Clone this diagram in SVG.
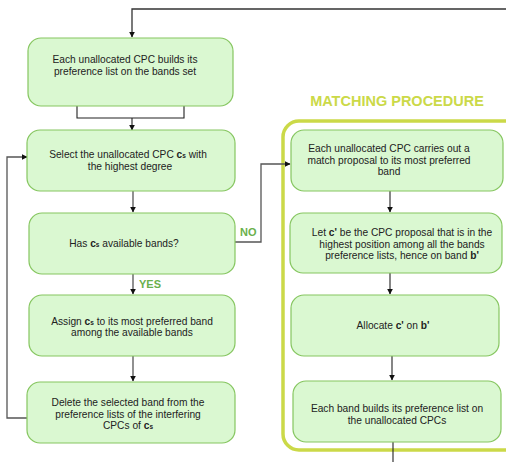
<svg xmlns="http://www.w3.org/2000/svg" width="506" height="462" viewBox="0 0 506 462">
  <defs>
    <marker id="arr" viewBox="0 0 10 10" refX="9" refY="5" markerWidth="6" markerHeight="6" markerUnits="userSpaceOnUse" orient="auto">
      <path d="M0,0 L10,5 L0,10 z" fill="#111"/>
    </marker>
  </defs>
  <style>
    .box { fill: #daf8d1; stroke: #86c660; stroke-width: 1.2; }
    .t { font-family: "Liberation Sans", Arial, sans-serif; font-size: 10.2px; fill: #222; text-anchor: middle; }
    .b { font-weight: bold; }
    .sub { font-weight: bold; font-size: 6.5px; }
    .lbl { font-family: "Liberation Sans", Arial, sans-serif; font-size: 11px; font-weight: bold; fill: #6ab04c; }
    .ln { fill: none; stroke: #555; stroke-width: 1.3; }
    .lnd { fill: none; stroke: #222; stroke-width: 1.1; }
    .title { font-family: "Liberation Sans", Arial, sans-serif; font-size: 14.5px; font-weight: bold; fill: #cbd948; text-anchor: middle; }
  </style>

  <!-- matching procedure frame -->
  <g id="matching-procedure">
    <rect x="283" y="121" width="240" height="329" rx="16" fill="#fff" stroke="#cbd948" stroke-width="3.5"/>
    <text class="title" x="397" y="106">MATCHING PROCEDURE</text>
  </g>

  <!-- connectors -->
  <g id="connectors">
    <path class="ln" d="M506,9 H132 V37" style="stroke:#333" marker-end="url(#arr)"/>
    <path class="lnd" d="M77,106 V118 H184 V106"/>
    <path class="lnd" d="M132,118 V130" marker-end="url(#arr)"/>
    <path class="ln" d="M133,191 V212" marker-end="url(#arr)"/>
    <path class="ln" d="M235,242 H261 V164 H290" marker-end="url(#arr)"/>
    <path class="ln" d="M133,274 V294" marker-end="url(#arr)"/>
    <path class="ln" d="M133,356 V381" marker-end="url(#arr)"/>
    <path class="ln" d="M27,418 H7 V157 H27" marker-end="url(#arr)"/>
    <path class="lnd" d="M390,191 V212" marker-end="url(#arr)"/>
    <path class="lnd" d="M390,273 V294" marker-end="url(#arr)"/>
    <path class="lnd" d="M392,356 V380" marker-end="url(#arr)"/>
    <path class="lnd" d="M393,442 V462"/>
    <text class="lbl" x="240" y="236">NO</text>
    <text class="lbl" x="139" y="288">YES</text>
  </g>

  <g id="build-pref">
    <rect class="box" x="28" y="38" width="205" height="68" rx="13"/>
    <text class="t" x="125" y="63">Each unallocated CPC builds its</text>
    <text class="t" x="125" y="74.5">preference list on the bands set</text>
  </g>

  <g id="select-cpc">
    <rect class="box" x="27" y="130" width="208" height="61" rx="13"/>
    <text class="t" x="128" y="158">Select the unallocated CPC <tspan class="b">c</tspan><tspan class="sub">s</tspan> with</text>
    <text class="t" x="130" y="169.5">the highest degree</text>
  </g>

  <g id="has-bands">
    <rect class="box" x="29" y="213" width="206" height="61" rx="13"/>
    <text class="t" x="124" y="247">Has <tspan class="b">c</tspan><tspan class="sub">s</tspan> available bands?</text>
  </g>

  <g id="assign">
    <rect class="box" x="29" y="295" width="206" height="61" rx="13"/>
    <text class="t" x="132" y="324.5">Assign <tspan class="b">c</tspan><tspan class="sub">s</tspan> to its most preferred band</text>
    <text class="t" x="132" y="336">among the available bands</text>
  </g>

  <g id="delete-band">
    <rect class="box" x="27" y="382" width="208" height="61" rx="13"/>
    <text class="t" x="128" y="406">Delete the selected band from the</text>
    <text class="t" x="128" y="417.5">preference lists of the interfering</text>
    <text class="t" x="128" y="429">CPCs of <tspan class="b">c</tspan><tspan class="sub">s</tspan></text>
  </g>

  <g id="proposal">
    <rect class="box" x="291" y="130" width="212" height="61" rx="13"/>
    <text class="t" x="389" y="152">Each unallocated CPC carries out a</text>
    <text class="t" x="389" y="163.5">match proposal to its most preferred</text>
    <text class="t" x="389" y="175">band</text>
  </g>

  <g id="best-proposal">
    <rect class="box" x="290" y="213" width="212" height="60" rx="13"/>
    <text class="t" x="402" y="236">Let <tspan class="b">c'</tspan> be the CPC proposal that is in the</text>
    <text class="t" x="402" y="247.5">highest position among all the bands</text>
    <text class="t" x="402" y="259">preference lists, hence on band <tspan class="b">b'</tspan></text>
  </g>

  <g id="allocate">
    <rect class="box" x="291" y="295" width="208" height="61" rx="13"/>
    <text class="t" x="393" y="329">Allocate <tspan class="b">c'</tspan> on <tspan class="b">b'</tspan></text>
  </g>

  <g id="band-pref">
    <rect class="box" x="293" y="381" width="208" height="61" rx="13"/>
    <text class="t" x="397" y="412">Each band builds its preference list on</text>
    <text class="t" x="397" y="423.5">the unallocated CPCs</text>
  </g>
</svg>
